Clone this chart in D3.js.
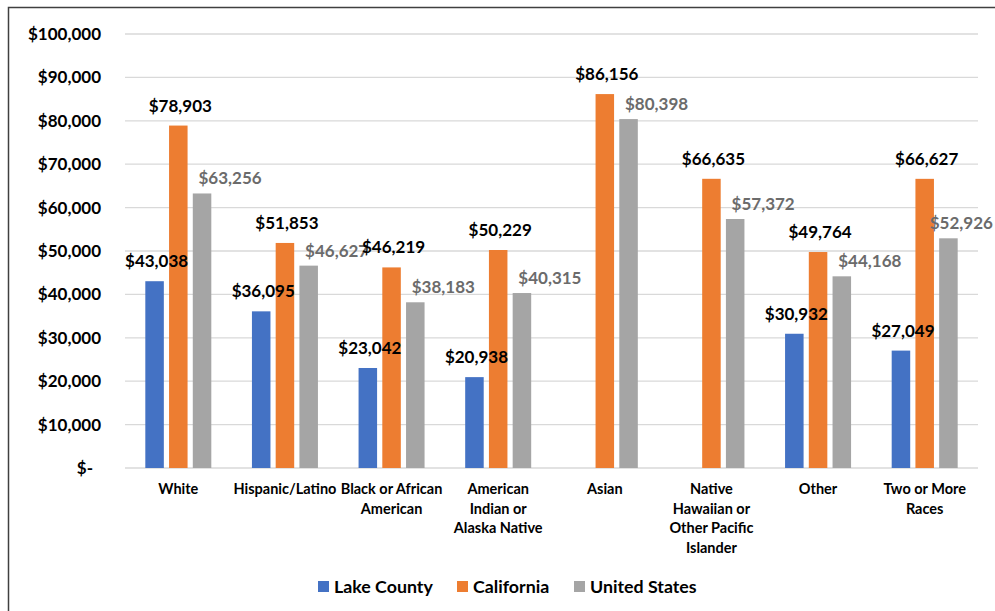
<!DOCTYPE html>
<html lang="en">
<head>
    <style>
        body { margin: 0; background: #fff; }
        text { font-family: Lato, "Open Sans", sans-serif; font-weight: bold; }
    </style>
    <script src="https://d3js.org/d3.v7.min.js"></script>
</head>
<body>
    <svg width="995" height="611"></svg>
    <script>
        // chart data
        var categories = ["White", "Hispanic/Latino", "Black or African American",
            "American Indian or Alaska Native", "Asian",
            "Native Hawaiian or Other Pacific Islander", "Other", "Two or More Races"];
        var categoryLines = [
            ["White"], ["Hispanic/Latino"], ["Black or African", "American"],
            ["American", "Indian or", "Alaska Native"], ["Asian"],
            ["Native", "Hawaiian or", "Other Pacific", "Islander"], ["Other"],
            ["Two or More", "Races"]
        ];
        var seriesNames = ["Lake County", "California", "United States"];
        var lakeCounty = [43038, 36095, 23042, 20938, null, null, 30932, 27049];
        var california = [78903, 51853, 46219, 50229, 86156, 66635, 49764, 66627];
        var unitedStates = [63256, 46627, 38183, 40315, 80398, 57372, 44168, 52926];
        var yTicks = [0, 10000, 20000, 30000, 40000, 50000, 60000, 70000, 80000, 90000, 100000];

        var colors = ["#4472C4", "#ED7D31", "#A5A5A5"];
        var labelColors = ["#000", "#000", "#6b6b6b"];
        var allSeries = [lakeCounty, california, unitedStates];

        var svg = d3.select("svg");

        // outer frame
        svg.append("rect")
            .attr("x", 8.5).attr("y", 7.5)
            .attr("width", 1000).attr("height", 700)
            .attr("fill", "none")
            .attr("stroke", "#404040")
            .attr("stroke-width", 1.5);

        var plotLeft = 125, plotRight = 978, plotTop = 34, plotBottom = 468;

        var x = d3.scaleBand().domain(categories).range([plotLeft, plotRight]);
        var x1 = d3.scaleBand().domain(d3.range(3)).range([0, 66]).paddingInner(0.22);
        var y = d3.scaleLinear().domain([0, 100000]).range([plotBottom, plotTop]);

        // gridlines
        svg.append("g").selectAll("line")
            .data(yTicks)
            .enter().append("line")
            .attr("x1", plotLeft).attr("x2", plotRight)
            .attr("y1", function(d) { return y(d); })
            .attr("y2", function(d) { return y(d); })
            .attr("stroke", "#d9d9d9")
            .attr("stroke-width", 1.3);

        // y axis labels
        var fmt = d3.format(",");
        svg.append("g").selectAll("text")
            .data(yTicks)
            .enter().append("text")
            .attr("x", function(d) { return d === 0 ? 93 : 101; })
            .attr("y", function(d) { return y(d); })
            .attr("dy", "0.35em")
            .attr("text-anchor", "end")
            .attr("font-size", "17px")
            .attr("fill", "#000")
            .text(function(d) { return d === 0 ? "$-" : "$" + fmt(d); });

        // bars
        var groups = svg.append("g").selectAll("g")
            .data(categories)
            .enter().append("g")
            .attr("transform", function(d) { return "translate(" + (x(d) + (x.bandwidth() - 66) / 2) + ",0)"; });

        groups.each(function(cat, ci) {
            var g = d3.select(this);
            var gx = x(cat) + (x.bandwidth() - 66) / 2;
            allSeries.forEach(function(s, si) {
                var v = s[ci];
                if (v == null) return;
                g.append("rect")
                    .attr("x", x1(si))
                    .attr("width", x1.bandwidth())
                    .attr("y", y(v))
                    .attr("height", plotBottom - y(v))
                    .attr("fill", colors[si]);
            });
            allSeries.forEach(function(s, si) {
                var v = s[ci];
                if (v == null) return;
                var cx = x1(si) + x1.bandwidth() / 2;
                var lbl = g.append("text")
                    .attr("x", si === 2 ? cx + 28 : cx + 2)
                    .attr("y", y(v) - (si === 2 ? 9 : 14))
                    .attr("text-anchor", "middle")
                    .attr("font-size", "17px")
                    .attr("fill", labelColors[si])
                    .text("$" + fmt(v));
                // keep labels inside the chart area
                var bb = lbl.node().getBBox();
                var overflow = gx + bb.x + bb.width - 993;
                if (overflow > 0) lbl.attr("x", +lbl.attr("x") - overflow);
            });
        });

        // category labels
        svg.append("g").selectAll("text")
            .data(categories)
            .enter().append("text")
            .attr("x", function(d) { return x(d) + x.bandwidth() / 2; })
            .attr("y", 494)
            .attr("text-anchor", "middle")
            .attr("font-size", "14.5px")
            .attr("fill", "#000")
            .each(function(d, i) {
                var t = d3.select(this);
                categoryLines[i].forEach(function(line, li) {
                    t.append("tspan")
                        .attr("x", x(d) + x.bandwidth() / 2)
                        .attr("dy", li === 0 ? 0 : 19.5)
                        .text(line);
                });
            });

        // legend
        var legendX = [318, 457, 574];
        var legend = svg.append("g").selectAll("g")
            .data(seriesNames)
            .enter().append("g")
            .attr("transform", function(d, i) { return "translate(" + legendX[i] + ",581)"; });
        legend.append("rect")
            .attr("width", 11).attr("height", 11)
            .attr("fill", function(d, i) { return colors[i]; });
        legend.append("text")
            .attr("x", 16).attr("y", 5.5)
            .attr("dy", "0.35em")
            .attr("font-size", "17.8px")
            .attr("fill", "#000")
            .text(function(d) { return d; });
    </script>
</body>
</html>
